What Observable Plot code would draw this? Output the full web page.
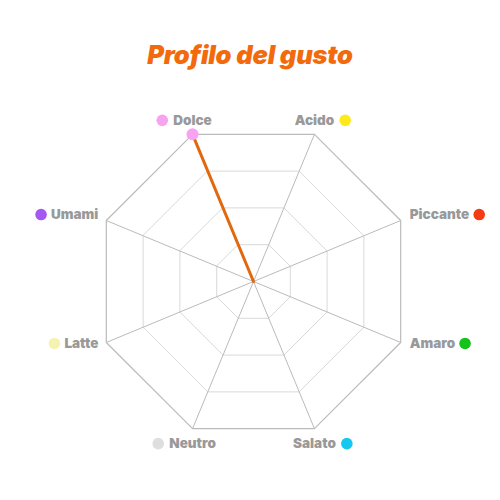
<!DOCTYPE html>
<html><head><meta charset="utf-8">
<script src="https://cdn.jsdelivr.net/npm/d3@7"></script>
<script src="https://cdn.jsdelivr.net/npm/@observablehq/plot@0.6"></script>
<style>
html,body{margin:0;padding:0;background:#fff;}
#title{height:90px;box-sizing:border-box;padding-top:42px;text-align:center;font-family:Inter,"Open Sans",sans-serif;font-style:italic;font-weight:900;font-size:25.5px;line-height:25px;color:#f26a0c;letter-spacing:-0.2px;}
#chart{height:410px;}
</style></head><body>
<div id="title">Profilo del gusto</div>
<div id="chart"></div>
<script>
const axes = ["Dolce","Acido","Piccante","Amaro","Salato","Neutro","Latte","Umami"];
const values = [5,0,0,0,0,0,0,0];
const axisColors = ["#f7a3f2","#ffe81c","#f43c14","#14c41c","#16c8f0","#dedede","#f6f3b2","#a656f2"];
const levels = [1.25,2.5,3.75,5];
const maxValue = 5;

const R = 159.3, cx = 253, cy = 191, k = R / maxValue;
const ang = i => (-22.5 + 45 * i) * Math.PI / 180;
const px = (i, r) => r * Math.sin(ang(i));
const py = (i, r) => r * Math.cos(ang(i));

const FONT = "Inter";
const ctx = document.createElement("canvas").getContext("2d");
ctx.font = "900 13.5px " + FONT;
const tw = s => ctx.measureText(s).width;

const gridRows = levels.flatMap(l => axes.map((a, i) => ({level: l, x: px(i, l), y: py(i, l)})));
const spokes = axes.map((a, i) => ({x: px(i, maxValue), y: py(i, maxValue)}));
const dataRows = axes.map((a, i) => ({axis: a, value: values[i], color: axisColors[i], x: px(i, values[i]), y: py(i, values[i])}));

const labels = axes.map((a, i) => {
  const vx = px(i, maxValue), vy = py(i, maxValue), w = tw(a);
  let side = i < 2 ? "top" : i < 4 ? "right" : i < 6 ? "bottom" : "left";
  let tx, ty, anchor, dx;
  if (side === "top" || side === "bottom") {
    tx = vx; ty = vy + (side === "top" ? 14 : -15) / k; anchor = "middle";
    const dotLeft = vx < 0;
    dx = dotLeft ? vx - (w / 2 + 11) / k : vx + (w / 2 + 11) / k;
  } else if (side === "left") {
    tx = vx - 8 / k; ty = vy + (vy > 0 ? 6 : -1) / k; anchor = "end";
    dx = tx - (w + 10) / k;
  } else {
    tx = vx + 9 / k; ty = vy + (vy > 0 ? 6 : -1) / k; anchor = "start";
    dx = tx + (w + 10) / k;
  }
  return {axis: a, color: axisColors[i], tx, ty, anchor, dx};
});

const textMark = anchor => Plot.text(labels.filter(d => d.anchor === anchor), {
  x: "tx", y: "ty", text: "axis", textAnchor: anchor, fill: "#999999",
  fontSize: 13.5, fontWeight: 900, fontFamily: FONT
});

const chart = Plot.plot({
  width: 500, height: 410, margin: 0,
  x: {domain: [-maxValue, maxValue], range: [cx - R, cx + R], axis: null},
  y: {domain: [-maxValue, maxValue], range: [cy + R, cy - R], axis: null},
  color: {type: "identity"},
  marks: [
    Plot.line(gridRows.filter(d => d.level < maxValue), {x: "x", y: "y", z: "level", curve: "linear-closed", stroke: "#d9d9d9", strokeWidth: 1}),
    Plot.link(spokes, {x1: () => 0, y1: () => 0, x2: "x", y2: "y", stroke: "#bbbbbb", strokeWidth: 1}),
    Plot.line(gridRows.filter(d => d.level === maxValue), {x: "x", y: "y", curve: "linear-closed", stroke: "#bbbbbb", strokeWidth: 1.2}),
    Plot.line(dataRows, {x: "x", y: "y", curve: "linear-closed", stroke: "#e2680e", strokeWidth: 3}),
    Plot.dot(dataRows.filter(d => d.value > 0), {x: "x", y: "y", r: 6, fill: "color"}),
    textMark("middle"), textMark("start"), textMark("end"),
    Plot.dot(labels, {x: "dx", y: "ty", r: 5.8, fill: "color"})
  ]
});
document.getElementById("chart").appendChild(chart);
</script>
</body></html>
